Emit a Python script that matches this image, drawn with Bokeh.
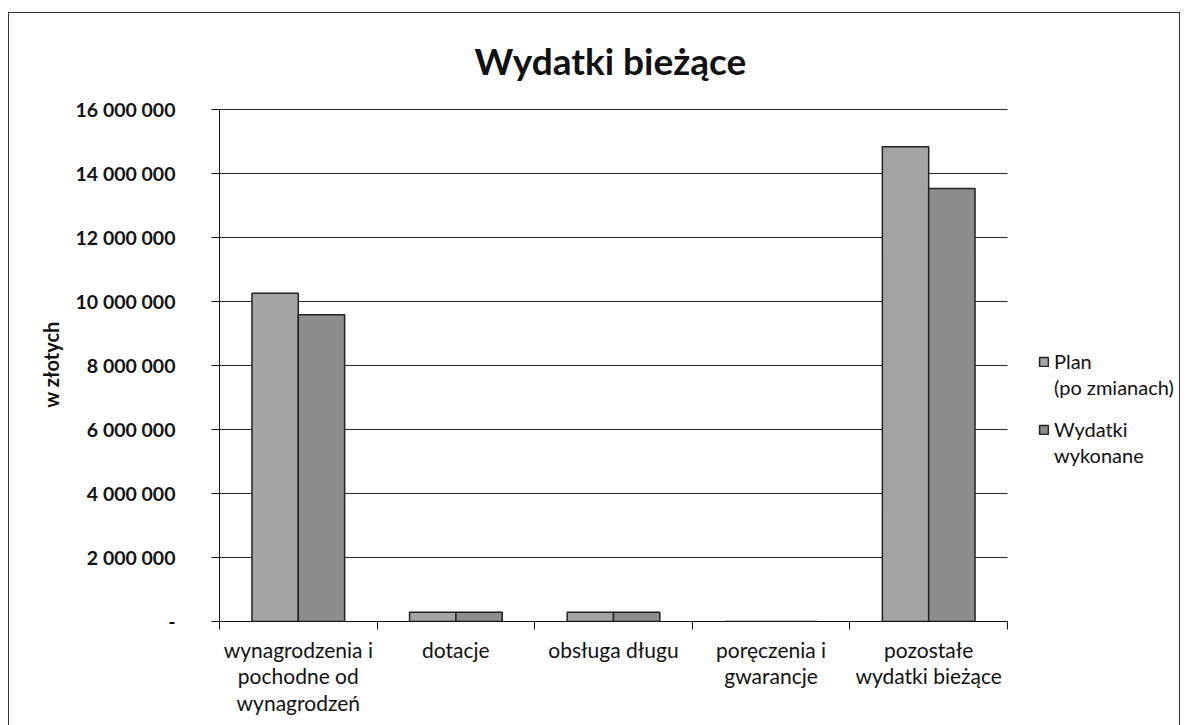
from bokeh.plotting import figure
from bokeh.models import Range1d, FixedTicker, Legend, LegendItem, Title
from bokeh.embed import file_html
from bokeh.resources import INLINE

# ---- data ----
categories = ["wynagrodzenia i\npochodne od\nwynagrodzeń", "dotacje", "obsługa długu",
              "poręczenia i\ngwarancje", "pozostałe\nwydatki bieżące"]
plan = [10250000, 290000, 290000, 0, 14820000]
wykonane = [9580000, 290000, 290000, 0, 13520000]
series_lines = [["Plan", "(po zmianach)"], ["Wydatki", "wykonane"]]
y_ticks = [0, 2000000, 4000000, 6000000, 8000000, 10000000, 12000000, 14000000, 16000000]
y_tick_labels = ["-", "2 000 000", "4 000 000", "6 000 000", "8 000 000", "10 000 000",
                 "12 000 000", "14 000 000", "16 000 000"]
title_text = "Wydatki bieżące"
y_label = "w złotych"

FONT = "Lato"
n = len(categories)
y_max = y_ticks[-1]
centers = [i + 0.5 for i in range(n)]
bw = 0.294
plan_x = [c - bw / 2 for c in centers]
wyk_x = [c + bw / 2 for c in centers]

# plot area spans to the right border; the category part covers 788 of 961 px
x_end = n * 961 / 788

p = figure(width=1172, height=713, output_backend="svg", toolbar_location=None,
           x_range=Range1d(0, x_end), y_range=Range1d(0, y_max * 1.003),
           min_border_left=210, min_border_right=1, min_border_top=93,
           min_border_bottom=105, outline_line_color=None)
p.margin = (12, 0, 0, 8)
p.styles = {"border-top": "1px solid #333", "border-left": "1px solid #333",
            "border-right": "1px solid #333"}

t = Title(text=title_text, align="left", vertical_align="middle", text_font=FONT,
          text_font_size="37px", text_font_style="bold", text_color="#111",
          standoff=47, offset=255)
p.add_layout(t, "above")

r1 = p.vbar(x=plan_x, top=plan, width=bw, bottom=0, fill_color="#a4a4a4",
            line_color="#222222", line_width=1.5)
r2 = p.vbar(x=wyk_x, top=wykonane, width=bw, bottom=0, fill_color="#8d8d8d",
            line_color="#222222", line_width=1.5)

# y axis
p.yaxis.bounds = (0, y_max)
p.yaxis.ticker = FixedTicker(ticks=y_ticks)
p.yaxis.major_label_overrides = {v: l for v, l in zip(y_ticks, y_tick_labels)}
p.yaxis.major_label_text_font = FONT
p.yaxis.major_label_text_font_size = "19.5px"
p.yaxis.major_label_text_font_style = "bold"
p.yaxis.major_label_text_color = "#111"
p.yaxis.major_tick_out = 8
p.yaxis.major_tick_in = 0
p.yaxis.minor_tick_out = 0
p.yaxis.minor_tick_in = 0
p.yaxis.major_label_standoff = 36
p.yaxis.axis_line_color = "#111"
p.yaxis.major_tick_line_color = "#111"
p.yaxis.axis_label = y_label
p.yaxis.axis_label_text_font = FONT
p.yaxis.axis_label_text_font_size = "20px"
p.yaxis.axis_label_text_font_style = "bold"
p.yaxis.axis_label_text_color = "#111"
p.yaxis.axis_label_standoff = 10

# x axis
p.xaxis.bounds = (0, n)
p.xaxis.ticker = FixedTicker(ticks=centers, minor_ticks=list(range(n + 1)))
p.xaxis.major_label_overrides = {c: l for c, l in zip(centers, categories)}
p.xaxis.major_label_text_font = FONT
p.xaxis.major_label_text_font_size = "21px"
p.xaxis.major_label_text_color = "#111"
p.xaxis.major_label_text_line_height = 1.06
p.xaxis.major_tick_out = 0
p.xaxis.major_tick_in = 0
p.xaxis.minor_tick_out = 8
p.xaxis.minor_tick_in = 0
p.xaxis.minor_tick_line_color = "#111"
p.xaxis.axis_line_color = "#111"
p.xaxis.major_label_standoff = 7

p.xgrid.grid_line_color = None
p.ygrid.ticker = FixedTicker(ticks=y_ticks)
p.ygrid.cross_bounds = (0, n)
p.ygrid.grid_line_color = "#2a2a2a"
p.ygrid.grid_line_width = 1

legend_y = [221, 153]
for renderer, lines, ly in zip([r1, r2], series_lines, legend_y):
    items = [LegendItem(label=lines[0], renderers=[renderer])]
    items += [LegendItem(label=s, renderers=[]) for s in lines[1:]]
    lg = Legend(items=items, location=(819, ly), label_text_font=FONT,
                label_text_font_size="20px", label_text_color="#111",
                glyph_width=11, glyph_height=11, spacing=0, label_height=26,
                padding=0, margin=0, border_line_color=None,
                background_fill_alpha=0, label_standoff=5)
    p.add_layout(lg, "center")

open("out.html", "w").write(file_html(p, INLINE))
